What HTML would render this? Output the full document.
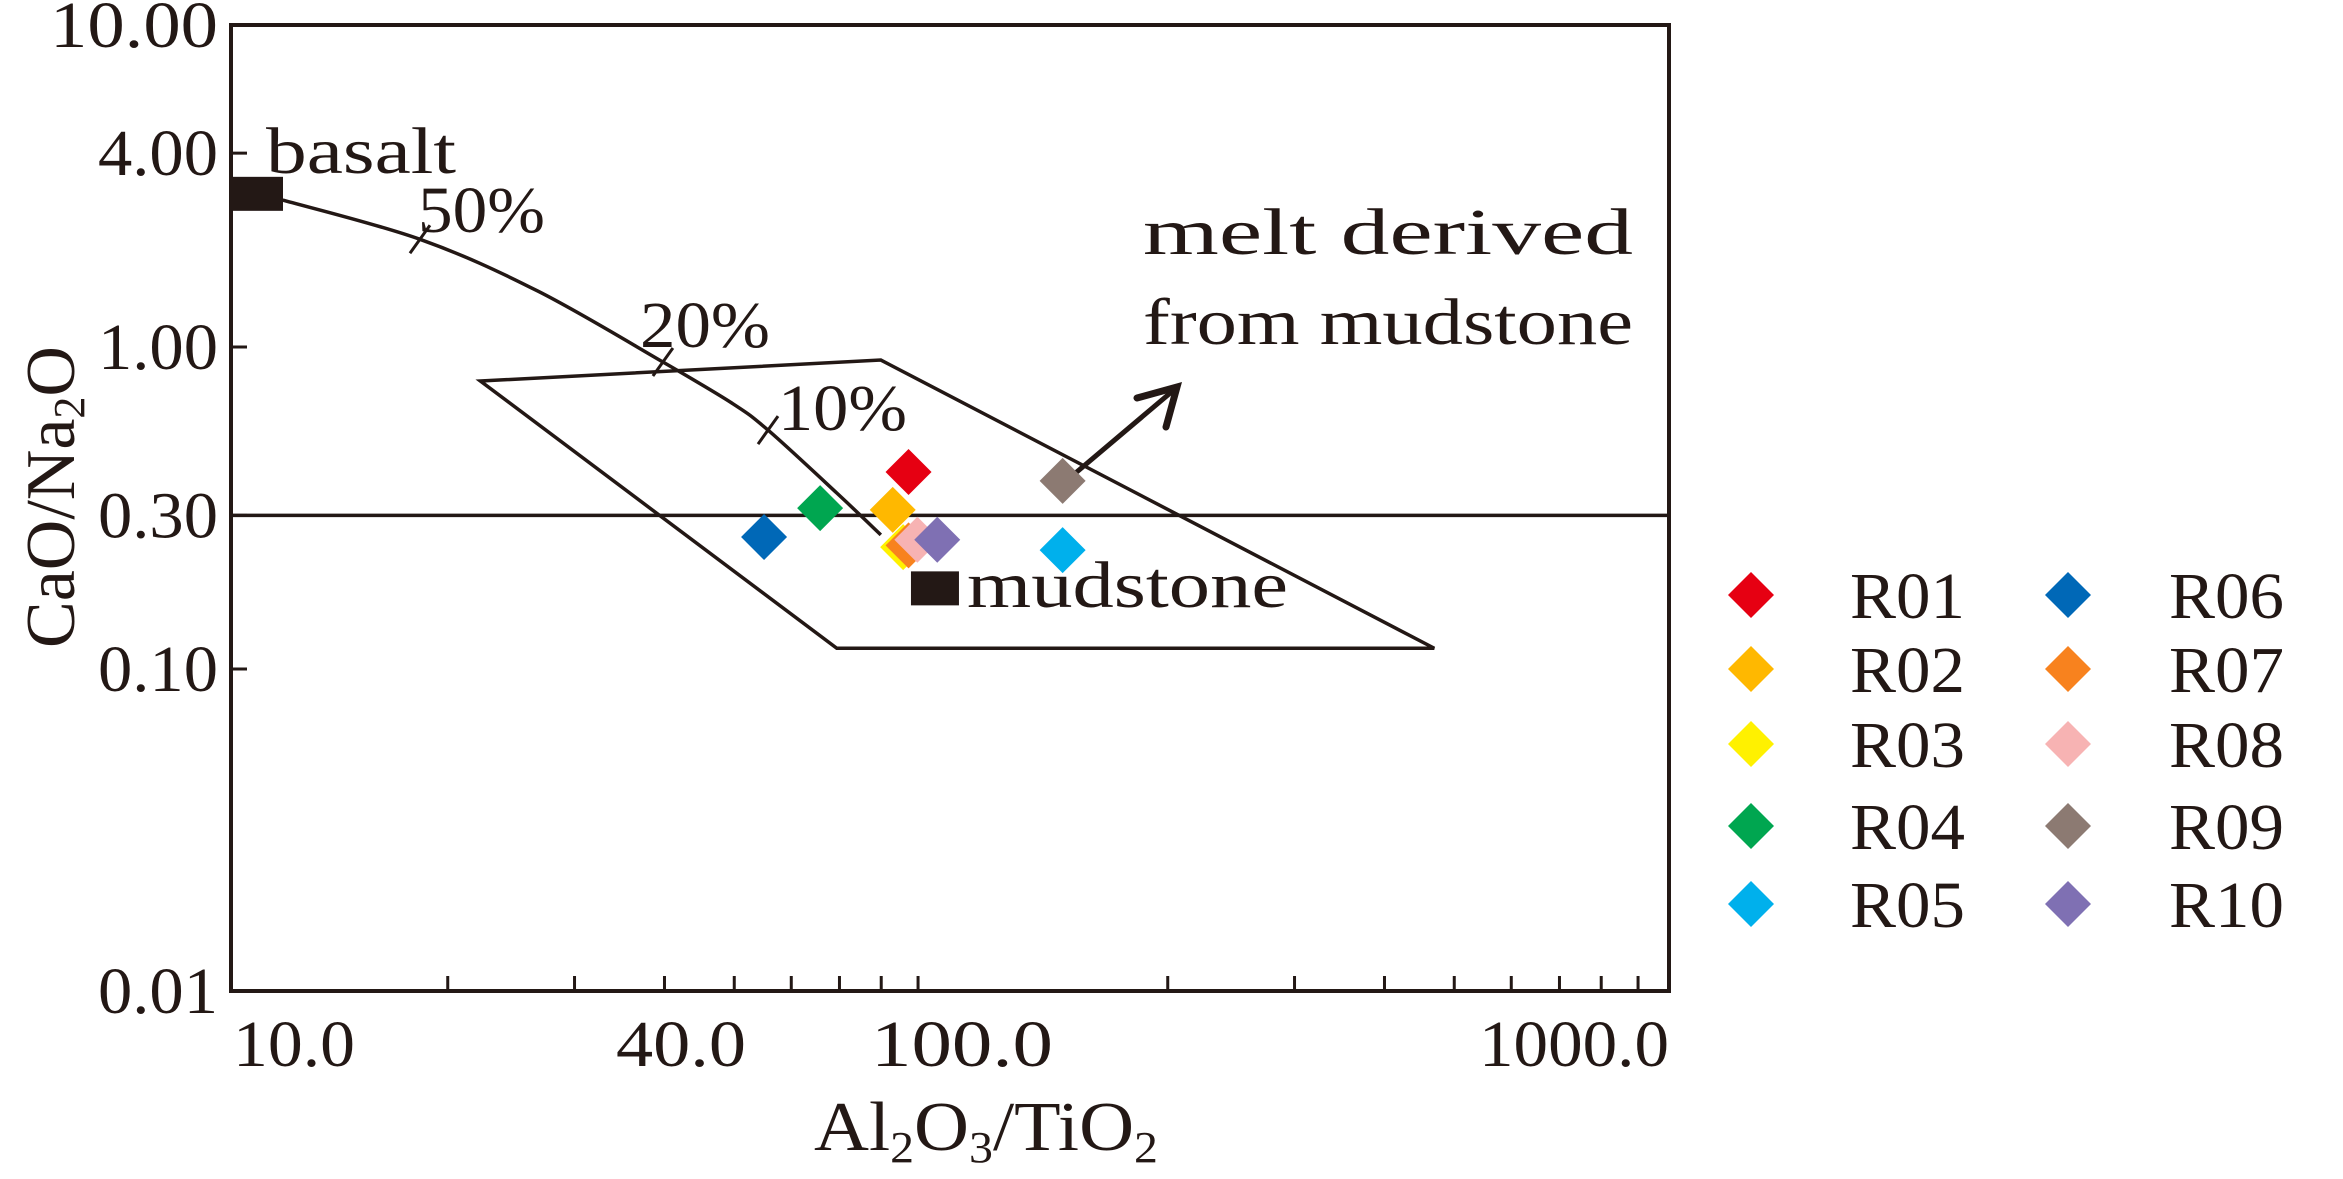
<!DOCTYPE html>
<html><head><meta charset="utf-8"><style>
html,body{margin:0;padding:0;background:#fff;}
svg{display:block;}
text{font-family:"Liberation Serif",serif;fill:#231815;}
</style></head><body>
<svg id="chart" width="2343" height="1179" viewBox="0 0 2343 1179" xmlns="http://www.w3.org/2000/svg"></svg>
<script>
const sampleNames=["R01","R02","R03","R04","R05","R06","R07","R08","R09","R10"];
const sampleX=[87.3,83.0,85.8,65.8,142.9,55.0,87.3,89.8,142.9,95.7];
const sampleY=[0.409,0.312,0.239,0.316,0.234,0.257,0.242,0.252,0.384,0.252];
const sampleColors=["#e60012","#ffb800","#fff100","#00a650","#00b0ec","#0068b7","#f8821e","#f7b3b3","#8c7a72","#7f70b3"];
const curveX=[11.8,18.3,26.7,39.8,49.6,55.7,69.4,79.9];
const curveY=[2.86,2.16,1.49,0.898,0.670,0.552,0.352,0.261];
const polyX=[22.2,79.9,469,69.4];
const polyY=[0.784,0.911,0.116,0.116];
const endmemberX=[10.9,95.0];
const endmemberY=[2.99,0.178];
const yTicks=[10,4,1,0.3,0.1,0.01];
const yTickLabels=["10.00","4.00","1.00","0.30","0.10","0.01"];
const xMinor=[20,30,40,50,60,70,80,90,200,300,400,500,600,700,800,900];

const L=231,R=1669,T=25,B=991;
function xs(v){return L+Math.log10(v/10)*720;}
function ys(v){return 347-Math.log10(v)*322;}
const svg=document.getElementById('chart');
const NS="http://www.w3.org/2000/svg";
function mk(tag,attrs,parent){const e=document.createElementNS(NS,tag);for(const k in attrs)e.setAttribute(k,attrs[k]);(parent||svg).appendChild(e);return e;}
function txt(s,x,y,anchor,len,name,size){const e=mk('text',{x:x,y:y,'text-anchor':anchor||'start','font-size':size||66});if(len){e.setAttribute('textLength',len);e.setAttribute('lengthAdjust','spacingAndGlyphs');}e.textContent=s;


return e;}

const fr=mk('rect',{x:L,y:T,width:R-L,height:B-T,fill:'none',stroke:'#231815','stroke-width':4});



yTicks.forEach((v,i)=>{
  const y=ys(v);
  if(i>0&&i<5){const t=mk('line',{x1:L,x2:L+16,y1:y,y2:y,stroke:'#231815','stroke-width':3});
  
  }
  txt(yTickLabels[i],218,y+22,'end',i==0?168:120,'y-tick-label');
});
xMinor.forEach(v=>{const x=xs(v);const t=mk('line',{x1:x,x2:x,y1:B,y2:B-15,stroke:'#231815','stroke-width':3});

});
txt("10.0",233,1066,'start',122,'x-tick-label');
txt("40.0",681,1066,'middle',130,'x-tick-label');
txt("100.0",962,1066,'middle',182,'x-tick-label');
txt("1000.0",1669,1066,'end',190,'x-tick-label');

const xt=mk('text',{x:986,y:1150,'text-anchor':'middle','font-size':70,textLength:344,lengthAdjust:'spacingAndGlyphs'});


xt.innerHTML='Al<tspan font-size="44" dy="12">2</tspan><tspan dy="-12">O</tspan><tspan font-size="44" dy="12">3</tspan><tspan dy="-12">/TiO</tspan><tspan font-size="44" dy="12">2</tspan>';
const yt=mk('text',{x:0,y:0,'text-anchor':'middle','font-size':70,transform:'translate(74,497) rotate(-90)'});


yt.innerHTML='CaO/Na<tspan font-size="44" dy="10">2</tspan><tspan dy="-10">O</tspan>';

const hl=mk('line',{x1:L,x2:R,y1:ys(0.3),y2:ys(0.3),stroke:'#231815','stroke-width':3.5});



const pg=mk('polygon',{points:polyX.map((v,i)=>xs(v)+','+ys(polyY[i])).join(' '),fill:'none',stroke:'#231815','stroke-width':3.5});



// smooth mixing curve (Catmull-Rom)
const P=curveX.map((v,i)=>[xs(v),ys(curveY[i])]);
let d='M'+P[0][0]+','+P[0][1];
for(let i=0;i<P.length-1;i++){
  const p0=P[Math.max(0,i-1)],p1=P[i],p2=P[i+1],p3=P[Math.min(P.length-1,i+2)];
  const c1=[p1[0]+(p2[0]-p0[0])/6,p1[1]+(p2[1]-p0[1])/6];
  const c2=[p2[0]-(p3[0]-p1[0])/6,p2[1]-(p3[1]-p1[1])/6];
  d+=` C${c1[0]},${c1[1]} ${c2[0]},${c2[1]} ${p2[0]},${p2[1]}`;
}
const cv=mk('path',{d:d,fill:'none',stroke:'#231815','stroke-width':3.5});


[[1,"50%",418,232,127],[3,"20%",640,347,130],[5,"10%",778,430,129]].forEach(a=>{
  const x=xs(curveX[a[0]]),y=ys(curveY[a[0]]);
  const t=mk('line',{x1:x-10,y1:y+14,x2:x+10,y2:y-14,stroke:'#231815','stroke-width':3});
  
  
  txt(a[1],a[2],a[3],'start',a[4],'mixing-percent-label');
});

endmemberX.forEach((v,i)=>{const x=xs(v),y=ys(endmemberY[i]);
 const s=mk('rect',{x:i==0?L:x-24,y:y-17,width:i==0?52:48,height:34,fill:'#231815'});
 
 });
txt("basalt",266,173,'start',190,'basalt-label');
txt("mudstone",967,607,'start',321,'mudstone-label');
txt("melt  derived",1143,254,'start',490,'melt-label-line1');
txt("from mudstone",1143,344,'start',490,'melt-label-line2');

const ar=mk('g',{stroke:'#231815','stroke-width':5,fill:'none','stroke-linecap':'round'});


mk('line',{x1:1072,y1:476,x2:1175,y2:389},ar);
mk('polyline',{points:'1137,398 1177,387 1166,427','stroke-width':7},ar);

sampleX.forEach((v,i)=>{const x=xs(v),y=ys(sampleY[i]);
 const p=mk('polygon',{points:`${x},${y-23} ${x+23},${y} ${x},${y+23} ${x-23},${y}`,fill:sampleColors[i]});
 
 });

const legY=[595,669,744,826,904];
sampleNames.forEach((n,i)=>{
 const col=Math.floor(i/5),row=i%5;
 const x=col?2068:1751,y=legY[row];
 const p=mk('polygon',{points:`${x},${y-23} ${x+23},${y} ${x},${y+23} ${x-23},${y}`,fill:sampleColors[i]});
 
 
 txt(n,col?2169:1850,y+23,'start',115,'legend-label-'+n.toLowerCase());
});
</script>
</body></html>
